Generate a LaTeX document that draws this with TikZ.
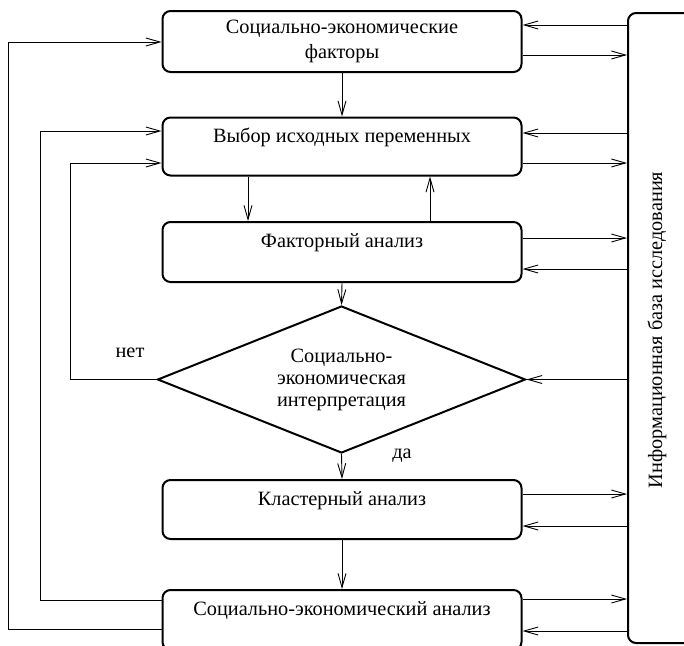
\documentclass[tikz,border=0pt]{standalone}
\usepackage{fontspec}
\setmainfont{Liberation Serif}
\newfontfamily\timesru{Liberation Serif}
\usetikzlibrary{arrows.meta,shapes.geometric}
\newcommand\uptext[1]{\raisebox{9pt}[\height][\depth]{#1}}
\begin{document}
\begin{tikzpicture}[x=1pt,y=-1pt,
  box/.style={draw,line width=2pt,rounded corners=8pt,minimum width=359pt,inner sep=0pt,align=center,font=\timesru\fontsize{20.3}{25}\selectfont},
  arr/.style={line width=0.9pt,-{Straight Barb[length=14pt,width=8pt,line width=0.9pt]}},
  txt/.style={font=\timesru\fontsize{20.3}{22}\selectfont,inner sep=0pt}]
\useasboundingbox (0,0) rectangle (684,645);
\clip (0,0) rectangle (684,645);

\node[box,minimum height=61pt] (b1) at (342,41.5) {Социально-экономические\\факторы};
\node[box,minimum height=58pt] (b2) at (342,146.5) {\uptext{Выбор исходных переменных}};
\node[box,minimum height=60pt] (b3) at (342,252) {\uptext{Факторный анализ}};
\node[draw,line width=2pt,shape=diamond,shape aspect=2.5,inner sep=0pt,minimum width=368pt,minimum height=147pt,align=center,font=\timesru\fontsize{20.3}{22}\selectfont] (d) at (341.5,379.5) {Социально-\\экономическая\\интерпретация};
\node[box,minimum height=59pt] (b5) at (342,509.5) {\uptext{Кластерный анализ}};
\node[box,minimum height=60pt] (b6) at (342,620) {\uptext{Социально-экономический анализ}};
\node[draw,line width=2pt,rounded corners=8pt,minimum width=72pt,minimum height=630pt,inner sep=0pt] (info) at (664,328) {};
\node[txt,rotate=90] (infotext) at (657,330) {Информационная база исследования};
\node[txt] (net) at (130,353) {нет};
\node[txt] (da) at (402,456) {да};

% right side
\draw[arr] (info.west |- 0,25) -- (b1.east |- 0,25);
\draw[arr] (b1.east |- 0,55) -- (info.west |- 0,55);
\draw[arr] (info.west |- 0,133) -- (b2.east |- 0,133);
\draw[arr] (b2.east |- 0,163) -- (info.west |- 0,163);
\draw[arr] (b3.east |- 0,238) -- (info.west |- 0,238);
\draw[arr] (info.west |- 0,269) -- (b3.east |- 0,269);
\draw[arr] (info.west |- d.east) -- (d.east);
\draw[arr] (b5.east |- 0,494) -- (info.west |- 0,494);
\draw[arr] (info.west |- 0,526) -- (b5.east |- 0,526);
\draw[arr] (b6.east |- 0,599) -- (info.west |- 0,599);
\draw[arr] (info.west |- 0,631) -- (b6.east |- 0,631);

% vertical
\draw[arr] (b1.south) -- (b2.north);
\draw[arr] (b2.south -| 248,0) -- (b3.north -| 248,0);
\draw[arr] (b3.north -| 430,0) -- (b2.south -| 430,0);
\draw[arr] (b3.south) -- (d.north);
\draw[arr] (d.south) -- (b5.north);
\draw[arr] (b5.south) -- (b6.north);

% left loops
\draw[arr] (b6.west |- 0,629) -- (8,629) -- (8,42) -- (b1.west |- 0,42);
\draw[arr] (b6.west |- 0,600) -- (40,600) -- (40,131) -- (b2.west |- 0,131);
\draw[arr] (d.west) -- (70,379.5) -- (70,163) -- (b2.west |- 0,163);
\end{tikzpicture}
\end{document}
